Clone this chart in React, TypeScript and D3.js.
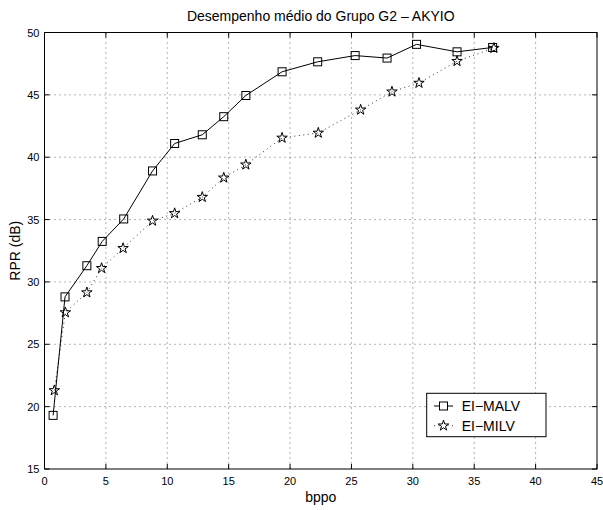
import React from "react";
import * as d3 from "d3";

const malvX = [0.7, 1.67, 3.45, 4.7, 6.45, 8.8, 10.6, 12.85, 14.6, 16.4, 19.35, 22.25, 25.3, 27.9, 30.3, 33.6, 36.5];
const malvY = [19.3, 28.8, 31.3, 33.25, 35.05, 38.9, 41.1, 41.8, 43.25, 44.95, 46.85, 47.65, 48.15, 47.95, 49.05, 48.45, 48.8];
const milvX = [0.8, 1.7, 3.45, 4.65, 6.4, 8.8, 10.6, 12.85, 14.6, 16.4, 19.35, 22.3, 25.75, 28.3, 30.5, 33.6, 36.6];
const milvY = [21.3, 27.55, 29.15, 31.1, 32.7, 34.9, 35.5, 36.8, 38.35, 39.4, 41.55, 41.95, 43.8, 45.25, 45.95, 47.7, 48.75];
const xTicks = [0, 5, 10, 15, 20, 25, 30, 35, 40, 45];
const yTicks = [15, 20, 25, 30, 35, 40, 45, 50];
const seriesNames = ["EI\u2212MALV", "EI\u2212MILV"];
const title = "Desempenho médio do Grupo G2 \u2013 AKYIO";
const xLabel = "bppo";
const yLabel = "RPR (dB)";

export default function App() {
  const W = 603, H = 510;
  const L = 44.5, R = 597, T = 32.5, B = 469;
  const x = d3.scaleLinear().domain([0, 45]).range([L, R]);
  const y = d3.scaleLinear().domain([15, 50]).range([B, T]);
  const font = "'Liberation Sans', Arial, Helvetica, sans-serif";
  const line = d3.line<[number, number]>().x(d => x(d[0])).y(d => y(d[1]));
  const malv: [number, number][] = malvX.map((v, i) => [v, malvY[i]]);
  const milv: [number, number][] = milvX.map((v, i) => [v, milvY[i]]);
  const star = d3.symbol().type(d3.symbolStar).size(34)();
  const sq = 8;
  const tick = 5;

  return (
    <svg width={W} height={H} style={{ position: "absolute", left: 0, top: 0, background: "#fff" }}>
      <rect x={0} y={0} width={W} height={H} fill="#fff" />
      {/* grid */}
      {xTicks.slice(1, -1).map(t => (
        <line key={"gx" + t} x1={x(t)} x2={x(t)} y1={T} y2={B} stroke="#000" strokeWidth={0.6} strokeDasharray="1,4" />
      ))}
      {yTicks.slice(1, -1).map(t => (
        <line key={"gy" + t} x1={L} x2={R} y1={y(t)} y2={y(t)} stroke="#000" strokeWidth={0.6} strokeDasharray="1,4" />
      ))}
      {/* ticks */}
      {xTicks.map(t => (
        <g key={"tx" + t}>
          <line x1={x(t)} x2={x(t)} y1={B} y2={B - tick} stroke="#000" />
          <line x1={x(t)} x2={x(t)} y1={T} y2={T + tick} stroke="#000" />
          <text x={x(t)} y={B + 16} fontSize={11} fontFamily={font} textAnchor="middle">{t}</text>
        </g>
      ))}
      {yTicks.map(t => (
        <g key={"ty" + t}>
          <line x1={L} x2={L + tick} y1={y(t)} y2={y(t)} stroke="#000" />
          <line x1={R} x2={R - tick} y1={y(t)} y2={y(t)} stroke="#000" />
          <text x={L - 5} y={y(t) + 4} fontSize={11} fontFamily={font} textAnchor="end">{t}</text>
        </g>
      ))}
      <rect x={L} y={T} width={R - L} height={B - T} fill="none" stroke="#000" strokeWidth={1} />
      {/* series */}
      <path d={line(milv) || ""} fill="none" stroke="#000" strokeWidth={0.8} strokeDasharray="1,3.5" />
      <path d={line(malv) || ""} fill="none" stroke="#000" strokeWidth={1} />
      {milv.map((d, i) => (
        <path key={"s" + i} d={star} transform={`translate(${x(d[0])},${y(d[1])})`} fill="none" stroke="#000" strokeWidth={1} />
      ))}
      {malv.map((d, i) => (
        <rect key={"q" + i} x={x(d[0]) - sq / 2} y={y(d[1]) - sq / 2} width={sq} height={sq} fill="none" stroke="#000" strokeWidth={1} />
      ))}
      {/* legend */}
      <rect x={426.7} y={393.3} width={119.3} height={43.4} fill="#fff" stroke="#000" strokeWidth={1} />
      <line x1={434} x2={453} y1={406} y2={406} stroke="#000" />
      <rect x={443.5 - sq / 2} y={406 - sq / 2} width={sq} height={sq} fill="#fff" stroke="#000" />
      <text x={461.7} y={411} fontSize={14} fontFamily={font}>{seriesNames[0]}</text>
      <line x1={434} x2={453} y1={425.7} y2={425.7} stroke="#000" strokeWidth={0.8} strokeDasharray="1,3.5" />
      <path d={star} transform={`translate(443.5,425.7)`} fill="#fff" stroke="#000" />
      <text x={461.7} y={430.7} fontSize={14} fontFamily={font}>{seriesNames[1]}</text>
      {/* labels */}
      <text x={(L + R) / 2} y={21} fontSize={14} fontFamily={font} textAnchor="middle">{title}</text>
      <text x={(L + R) / 2} y={502} fontSize={14} fontFamily={font} textAnchor="middle">{xLabel}</text>
      <text transform={`translate(20,${(T + B) / 2}) rotate(-90)`} fontSize={14} fontFamily={font} textAnchor="middle">{yLabel}</text>
    </svg>
  );
}
